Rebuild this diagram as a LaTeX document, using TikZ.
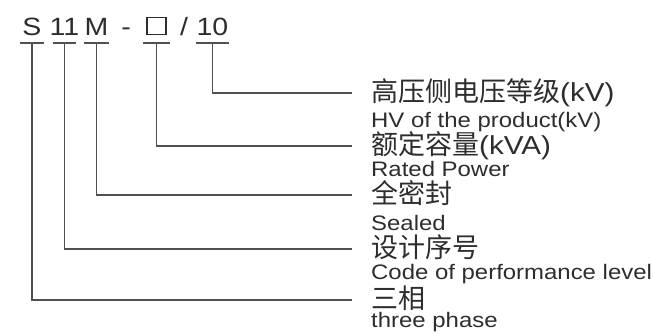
\documentclass[tikz,border=0pt]{standalone}
\usepackage{fontspec}
\usepackage{tikz}
\newfontfamily\enfont[FakeStretch=1.14]{Liberation Sans}
\newfontfamily\zhfont{Noto Sans CJK SC}
\definecolor{txtgray}{RGB}{45,45,45}
\definecolor{linegray}{RGB}{80,80,80}
\tikzset{
  code/.style={anchor=base, inner xsep=0pt, inner ysep=0pt, text height=18pt, text depth=7pt,
    text=txtgray, font=\enfont\fontsize{25pt}{25pt}\selectfont},
  uline/.style={linegray, line width=1.5pt},
  conn/.style={linegray, line width=1.5pt},
  zhlabel/.style={anchor=base west, inner sep=0pt, text=txtgray, font=\zhfont\fontsize{27pt}{27pt}\selectfont},
  enlabel/.style={anchor=base west, inner sep=0pt, text=txtgray, font=\enfont\fontsize{21pt}{21pt}\selectfont},
}
\newcommand{\unitkv}[1]{{\enfont\fontsize{26pt}{26pt}\selectfont #1}}

\begin{document}
\begin{tikzpicture}[x=1pt, y=1pt]
    \useasboundingbox (0,0) rectangle (653,334);
    % type code
    \node[code, inner xsep=2pt] (cS) at (32,298) {S};
    \node[code, inner xsep=-3pt] (c11) at (64.5,298) {11};
    \node[code] (cM) at (96.5,298) {M};
    \node[code] (cDash) at (126,298) {-};
    \node[code, minimum width=27pt] (cBox) at (156.5,298) {};
    \node[draw=txtgray, line width=1.3pt, minimum width=19pt, minimum height=17pt, inner sep=0pt, anchor=south] (cSq) at (156.5,299) {};
    \node[code] (cSlash) at (184,298) {/};
    \node[code] (c10) at (212.5,298) {10};
    \foreach \n in {cS,c11,cM,cBox,c10}
      \draw[uline] (\n.south west) -- (\n.south east);
    % line ends
    \coordinate (e10) at (352,241);
    \coordinate (eBox) at (352,188);
    \coordinate (eM) at (352,139);
    \coordinate (e11) at (352,85);
    \coordinate (eS) at (352,34);
    \draw[conn] (c10.south) |- (e10);
    \draw[conn] (cBox.south) |- (eBox);
    \draw[conn] (cM.south) |- (eM);
    \draw[conn] (c11.south) |- (e11);
    \draw[conn] (cS.south) |- (eS);
    % labels
    \node[zhlabel] (z10) at (371,232) {高压侧电压等级\unitkv{(kV)}};
    \node[enlabel] (x10) at (371,206) {HV of the product(kV)};
    \node[zhlabel] (zBox) at (371,179) {额定容量\unitkv{(kVA)}};
    \node[enlabel] (xBox) at (371,157) {Rated Power};
    \node[zhlabel] (zM) at (371,130) {全密封};
    \node[enlabel] (xM) at (371,103) {Sealed};
    \node[zhlabel] (z11) at (371,76) {设计序号};
    \node[enlabel] (x11) at (371,54) {Code of performance level};
    \node[zhlabel] (zS) at (371,25) {三相};
    \node[enlabel] (xS) at (371,6) {three phase};
\end{tikzpicture}
\end{document}
